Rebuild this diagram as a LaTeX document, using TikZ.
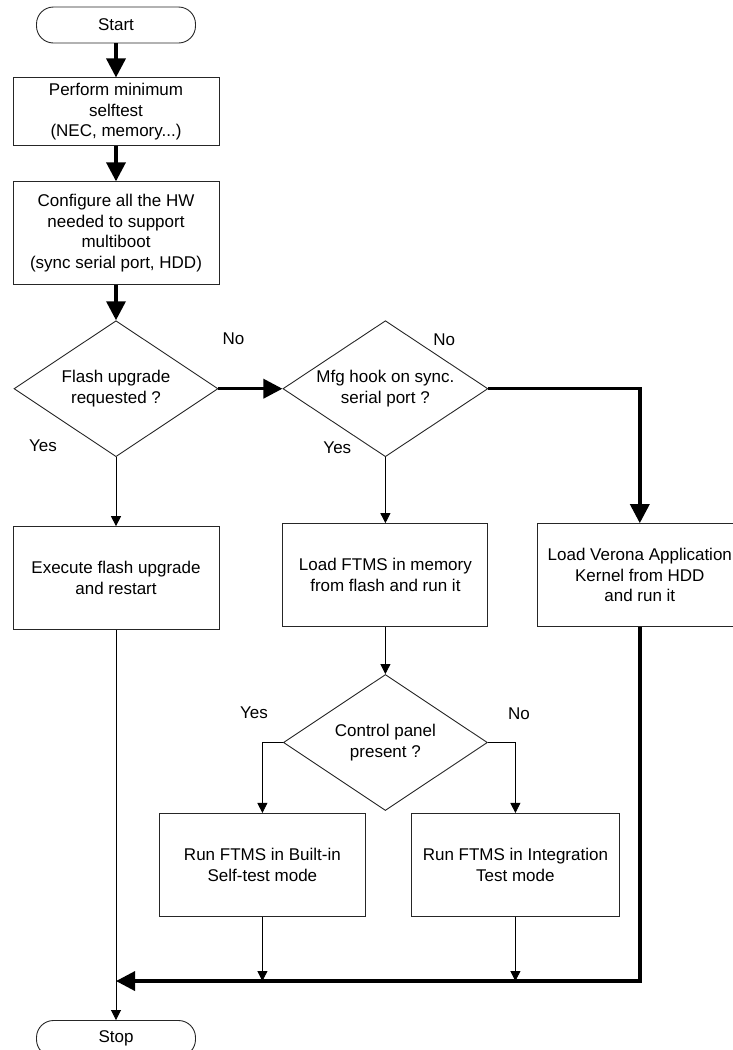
\documentclass[tikz,border=0pt]{standalone}
\usepackage{fontspec}
\setmainfont{Liberation Sans}
\usetikzlibrary{arrows.meta,positioning,shapes.geometric}
\tikzset{
  terminal/.style={draw=black!85, line width=0.9pt, rounded corners=17pt, minimum width=159pt, minimum height=36pt, inner sep=0pt},
  process/.style={draw=black!85, line width=0.9pt, minimum width=206pt, minimum height=103pt, align=center, inner sep=0pt},
  decision/.style={diamond, draw=black!85, line width=0.9pt, minimum width=204pt, minimum height=136pt, aspect=1.5, align=center, inner sep=0pt},
  lbl/.style={inner sep=0pt},
  flow/.style={-{Triangle[length=10pt,width=10pt]}, line width=0.8pt},
  mainflow/.style={-{Triangle[length=19pt,width=19pt]}, line width=3.5pt}
}

\begin{document}
\begin{tikzpicture}[font=\fontsize{17}{20.5}\selectfont, node distance=35pt and 64pt]
  \useasboundingbox (0,0) rectangle (733pt,-1050pt);
  \node[terminal] (start) at (116pt,-25pt) {Start};
  \node[process, minimum height=68pt, below=34pt of start] (selftest) {Perform minimum\\selftest\\(NEC, memory...)};
  \node[process, below=of selftest] (config) {Configure all the HW\\needed to support\\multiboot\\(sync serial port, HDD)};
  \node[decision, below=of config] (flash) {Flash upgrade\\requested ?};
  \node[decision, right=of flash, minimum width=205pt] (mfg) {Mfg hook on sync.\\serial port ?};
  \node[process, below=69pt of flash] (execute) {Execute flash upgrade\\and restart};
  \node[process, below=66pt of mfg, minimum width=205pt] (ftms) {Load FTMS in memory\\from flash and run it};
  \node[process, right=49pt of ftms, minimum width=204pt] (verona) {Load Verona Application\\Kernel from HDD\\and run it};
  \node[decision, below=47pt of ftms] (panel) {Control panel\\present ?};
  \node[process, below=2pt of panel, xshift=-123pt] (builtin) {Run FTMS in Built-in\\Self-test mode};
  \node[process, below=2pt of panel, xshift=130pt, minimum width=208pt] (integ) {Run FTMS in Integration\\Test mode};
  \coordinate[below=351pt of execute] (merge);
  \node[terminal, below=390pt of execute] (stop) {Stop};

  \node[lbl, above right=44pt and 4pt of flash.east] (noflash) {No};
  \node[lbl, above left=5pt and 59pt of flash.south] (yesflash) {Yes};
  \node[lbl, above left=43pt and 33pt of mfg.east] (nomfg) {No};
  \node[lbl, above left=3pt and 34pt of mfg.south] (yesmfg) {Yes};
  \node[lbl, above left=24pt and 15pt of panel.west] (yespanel) {Yes};
  \node[lbl, above right=23pt and 20pt of panel.east] (nopanel) {No};

  \draw[mainflow] (start) -- (selftest);
  \draw[mainflow] (selftest) -- (config);
  \draw[mainflow] (config) -- (flash);
  \draw[mainflow] (flash) -- (mfg);
  \draw[mainflow] (mfg.east) -| (verona.north);
  \draw[flow] (flash) -- (execute);
  \draw[flow] (mfg) -- (ftms);
  \draw[flow] (ftms) -- (panel);
  \draw[flow] (panel.west) -| (builtin.north);
  \draw[flow] (panel.east) -| (integ.north);
  \draw[flow] (builtin) -- (builtin |- merge);
  \draw[flow] (integ) -- (integ |- merge);
  \draw[flow] (execute) -- (stop);
  \draw[mainflow] (verona) |- (merge);
\end{tikzpicture}
\end{document}
